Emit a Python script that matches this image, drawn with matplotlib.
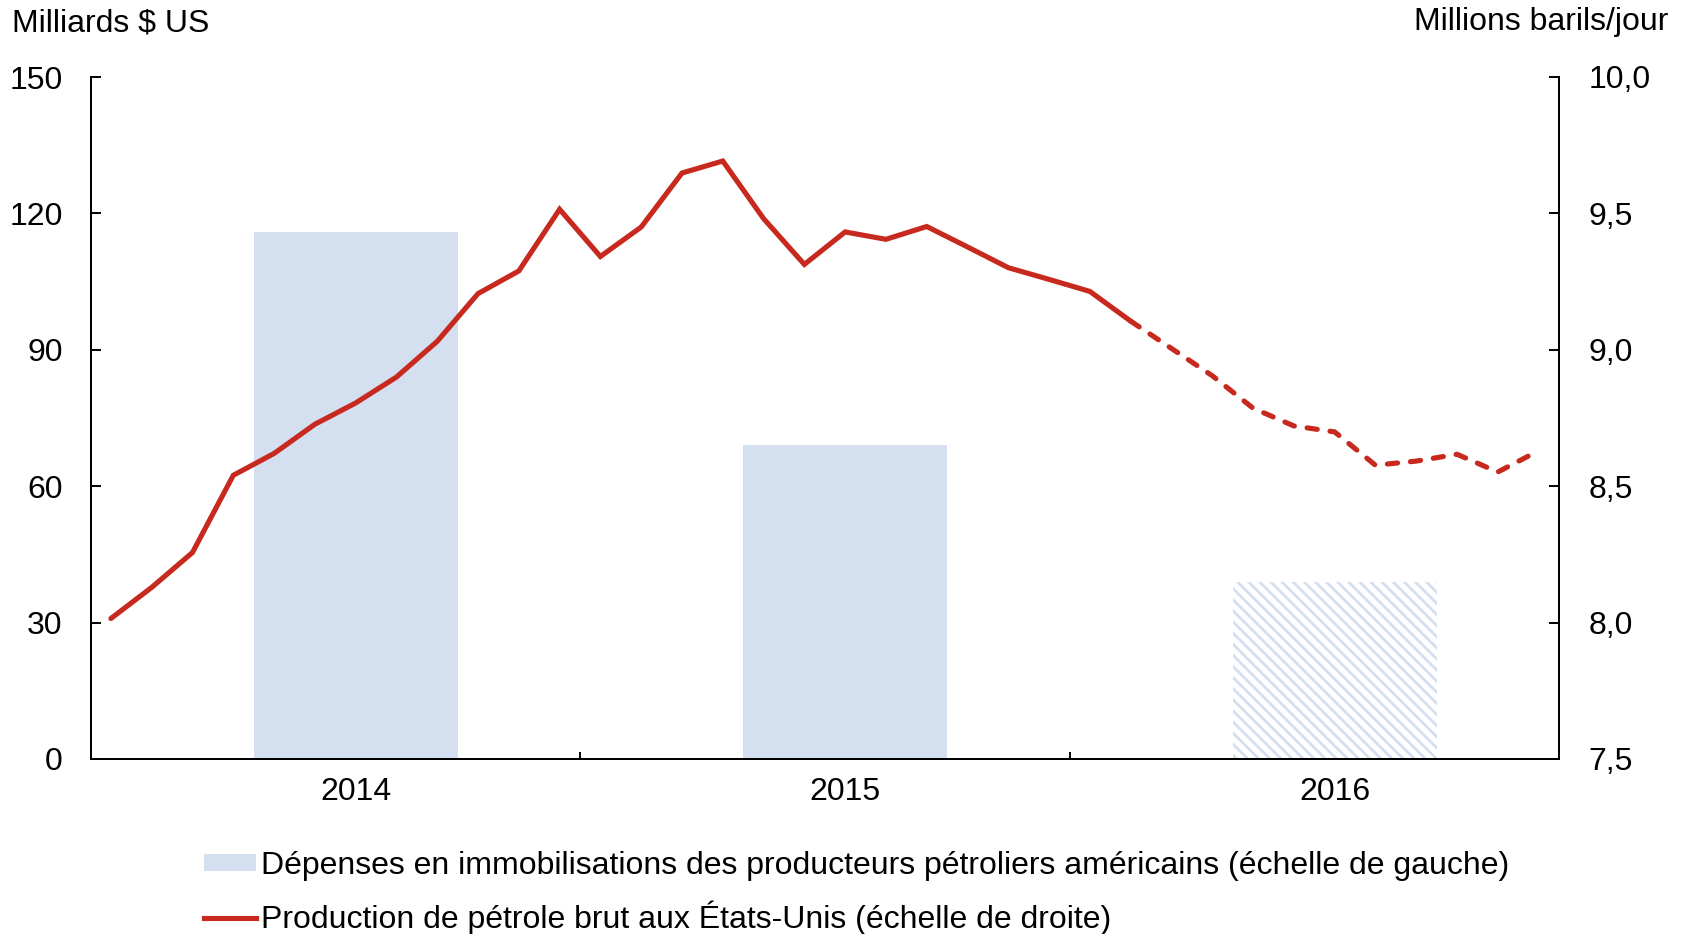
import matplotlib
matplotlib.use('Agg')
import matplotlib.pyplot as plt
from matplotlib.lines import Line2D
from matplotlib.patches import Patch

# ---- data ----
years = ['2014', '2015', '2016']
capex = [116, 69, 39]  # Milliards $ US (left scale)
production = [8.015, 8.129, 8.257, 8.540, 8.620, 8.727, 8.805, 8.900, 9.031, 9.206,
              9.289, 9.515, 9.342, 9.450, 9.648, 9.692, 9.481, 9.313, 9.432, 9.405,
              9.452, 9.377, 9.301, 9.258, 9.214, 9.105, 9.005, 8.905, 8.786, 8.721,
              8.699, 8.577, 8.592, 8.617, 8.552, 8.630]  # Millions barils/jour, monthly
n_actual = 26  # months of actual data (solid line), rest projected (dashed)
left_ticks = [0, 30, 60, 90, 120, 150]
right_ticks = [7.5, 8.0, 8.5, 9.0, 9.5, 10.0]
legend_labels = ['Dépenses en immobilisations des producteurs pétroliers américains (échelle de gauche)',
                 'Production de pétrole brut aux États-Unis (échelle de droite)']

BAR = '#D4DFF0'
RED = '#C8291E'
FS = 23

plt.rcParams['font.family'] = ['Liberation Sans', 'DejaVu Sans']
plt.rcParams['hatch.linewidth'] = 2.0

W, H = 1686, 934
fig = plt.figure(figsize=(W / 100, H / 100), dpi=100)
ax = fig.add_axes([90.5 / W, 1 - 759 / H, (1559 - 90.5) / W, (759 - 77) / H])
ax2 = ax.twinx()

# bars
bar_x = [12 * k + 6.5 for k in range(len(years))]
bars = ax.bar(bar_x, capex, width=5, color=BAR, linewidth=0, zorder=1)
bars[-1].set_facecolor('white')
bars[-1].set_edgecolor(BAR)
bars[-1].set_hatch('\\\\\\')

# line
line_x = [i + 0.5 for i in range(len(production))]
ax2.plot(line_x[:n_actual], production[:n_actual], color=RED, lw=3.7,
         solid_capstyle='round', solid_joinstyle='miter')
ax2.plot(line_x[n_actual - 1:], production[n_actual - 1:], color=RED, lw=3.7,
         dashes=(2.0, 2.5), dash_capstyle='round', dash_joinstyle='miter')

# axes
ax.set_xlim(0, 36)
ax.set_ylim(0, 150)
ax.set_yticks(left_ticks)
ax.set_yticklabels([str(t) for t in left_ticks])
ax.set_xticks([12, 24])
ax.set_xticklabels([])
ax.set_xticks(bar_x, minor=True)
ax.set_xticklabels(years, minor=True)
ax.tick_params(axis='y', direction='in', length=7, width=1.4, pad=20, labelsize=FS)
ax.tick_params(axis='x', which='major', direction='in', length=5, width=1.4)
ax.tick_params(axis='x', which='minor', length=0, pad=13, labelsize=FS)

ax2.set_ylim(7.5, 10.0)
ax2.set_yticks(right_ticks)
ax2.set_yticklabels([f'{t:.1f}'.replace('.', ',') for t in right_ticks])
ax2.tick_params(axis='y', direction='in', length=7, width=1.4, pad=21, labelsize=FS)

for a in (ax, ax2):
    a.spines['top'].set_visible(False)
    for s in ('left', 'right', 'bottom'):
        a.spines[s].set_linewidth(1.4)
        a.spines[s].set_color('black')

fig.text(11.7 / W, 1 - 31 / H, 'Milliards $ US', ha='left', va='baseline', fontsize=FS)
fig.text(1668 / W, 1 - 30 / H, 'Millions barils/jour', ha='right', va='baseline', fontsize=FS)

handles = [Patch(facecolor=BAR, edgecolor='none'),
           Line2D([], [], color=RED, lw=3.7)]
fig.legend(handles, legend_labels, loc='upper left', bbox_to_anchor=(204 / W, 1 - 851 / H),
           frameon=False, fontsize=FS, handlelength=1.63, handletextpad=0.16,
           labelspacing=0.62, borderpad=0, borderaxespad=0, handleheight=0.45)

fig.savefig('out.png', dpi=100)
